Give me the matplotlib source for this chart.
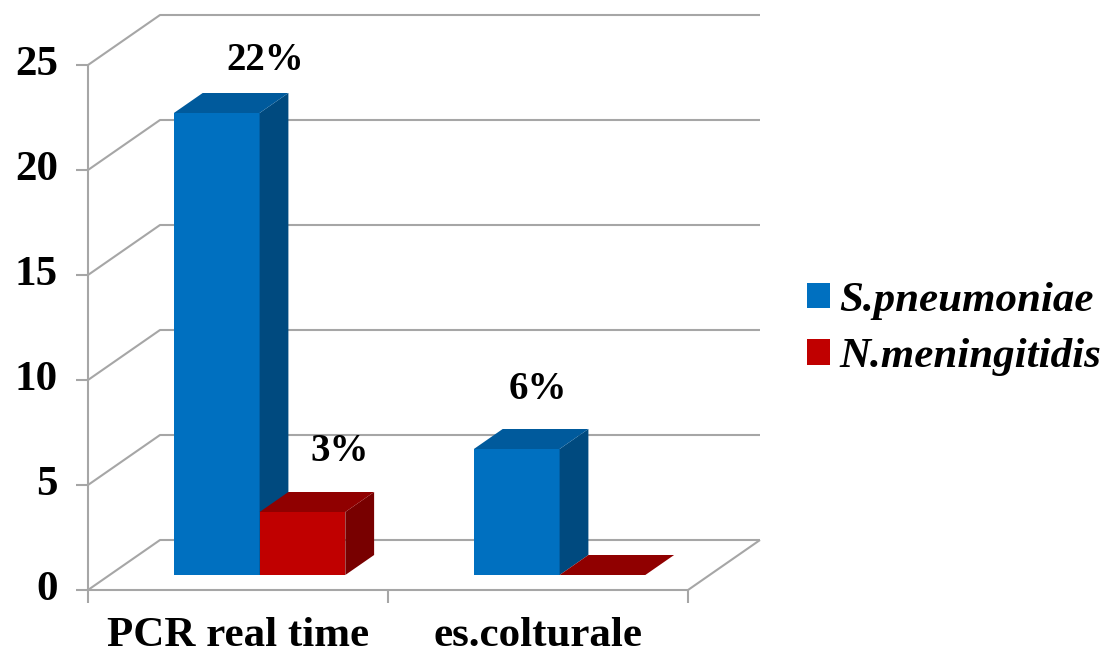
import matplotlib
matplotlib.use("Agg")
import matplotlib.pyplot as plt
from matplotlib.patches import Polygon, Patch

# ── Data ─────────────────────────────────────────────────────────────────────
categories = ["PCR real time", "es.colturale"]
series_names = ["S.pneumoniae", "N.meningitidis"]
s_pneumoniae = [22, 6]
n_meningitidis = [3, 0]
series_values = [s_pneumoniae, n_meningitidis]
value_labels = [["22%", "6%"], ["3%", None]]
y_ticks = [0, 5, 10, 15, 20, 25]

# ── Style ────────────────────────────────────────────────────────────────────
# (front, side, top) face colours per series
SERIES_COLORS = [
    ("#0070C0", "#004A7F", "#005A9C"),
    ("#C00000", "#780000", "#900000"),
]
# label nudges from the bar's front-top centre (category units, value units)
LABEL_NUDGE = [[(0.163, 2.52), (0.07, 2.81)], [(0.123, 2.86), None]]
GRID = "#A6A6A6"
FONT = "Liberation Serif"

# oblique projection: full depth of the box in (category units, value units)
DEPTH_DX = 0.24
DEPTH_DY = 50 / 21
BAR_D0, BAR_D1 = 0.3, 0.7      # bar front/back as fraction of box depth
GAP = 1.5                      # gap width relative to bar width
BAR_W = 1 / (len(series_values) + GAP)
Y_MAX = y_ticks[-1]
N_CAT = len(categories)


def proj(x, y, d):
    return (x + d * DEPTH_DX, y + d * DEPTH_DY)


fig = plt.figure(figsize=(11.1, 6.57), dpi=100)
ax = fig.add_axes([0, 0, 1, 1])
ax.set_xlim(-88 / 300, (1110 - 88) / 300)
ax.set_ylim((590 - 657) / 21, 590 / 21)
ax.axis("off")

line_kw = dict(color=GRID, lw=1.5, solid_capstyle="butt", zorder=1)

# back wall gridlines + left wall diagonals
for t in y_ticks:
    pts = [proj(0, t, 0), proj(0, t, 1), proj(N_CAT, t, 1)]
    ax.plot([p[0] for p in pts], [p[1] for p in pts], **line_kw)
    ax.plot([-0.04, 0], [t, t], **line_kw)
    ax.text(-0.1, t, str(t), ha="right", va="center", family=FONT,
            weight="bold", fontsize=31)

# front vertical axis and floor
ax.plot([0, 0], [0, Y_MAX], **line_kw)
floor = [proj(0, 0, 0), proj(N_CAT, 0, 0), proj(N_CAT, 0, 1)]
ax.plot([p[0] for p in floor], [p[1] for p in floor], **line_kw)
for c in range(N_CAT + 1):
    ax.plot([c, c], [0, -0.62], **line_kw)

for c, name in enumerate(categories):
    ax.text(c + 0.5, -2.2, name, ha="center", va="center", family=FONT,
            weight="bold", fontsize=31)

# bars, drawn left to right so each covers its neighbour's side face
for c in range(N_CAT):
    for i, vals in enumerate(series_values):
        v = vals[c]
        front, side, top = SERIES_COLORS[i]
        x0 = c + (GAP / 2 + i) * BAR_W
        x1 = x0 + BAR_W
        faces = [
            ([proj(x0, 0, BAR_D0), proj(x1, 0, BAR_D0),
              proj(x1, v, BAR_D0), proj(x0, v, BAR_D0)], front),
            ([proj(x1, 0, BAR_D0), proj(x1, 0, BAR_D1),
              proj(x1, v, BAR_D1), proj(x1, v, BAR_D0)], side),
            ([proj(x0, v, BAR_D0), proj(x1, v, BAR_D0),
              proj(x1, v, BAR_D1), proj(x0, v, BAR_D1)], top),
        ]
        for pts, col in faces:
            ax.add_patch(Polygon(pts, closed=True, facecolor=col,
                                 edgecolor="none", zorder=3))
        lab = value_labels[i][c]
        if lab:
            nx, ny = LABEL_NUDGE[i][c]
            lx, ly = proj((x0 + x1) / 2, v, BAR_D0)
            ax.text(lx + nx, ly + ny, lab, ha="center", va="center",
                    family=FONT, weight="bold", fontsize=28, zorder=5)

handles = [Patch(facecolor=SERIES_COLORS[i][0]) for i in range(len(series_names))]
fig.legend(handles, series_names, loc="center left",
           bbox_to_anchor=(807 / 1110, 1 - 329 / 657), frameon=False,
           prop=dict(family=FONT, weight="bold", style="italic", size=31),
           handlelength=0.53, handleheight=0.53, handletextpad=0.22,
           labelspacing=0.43, borderaxespad=0, borderpad=0)

fig.savefig("out.png", dpi=100)
